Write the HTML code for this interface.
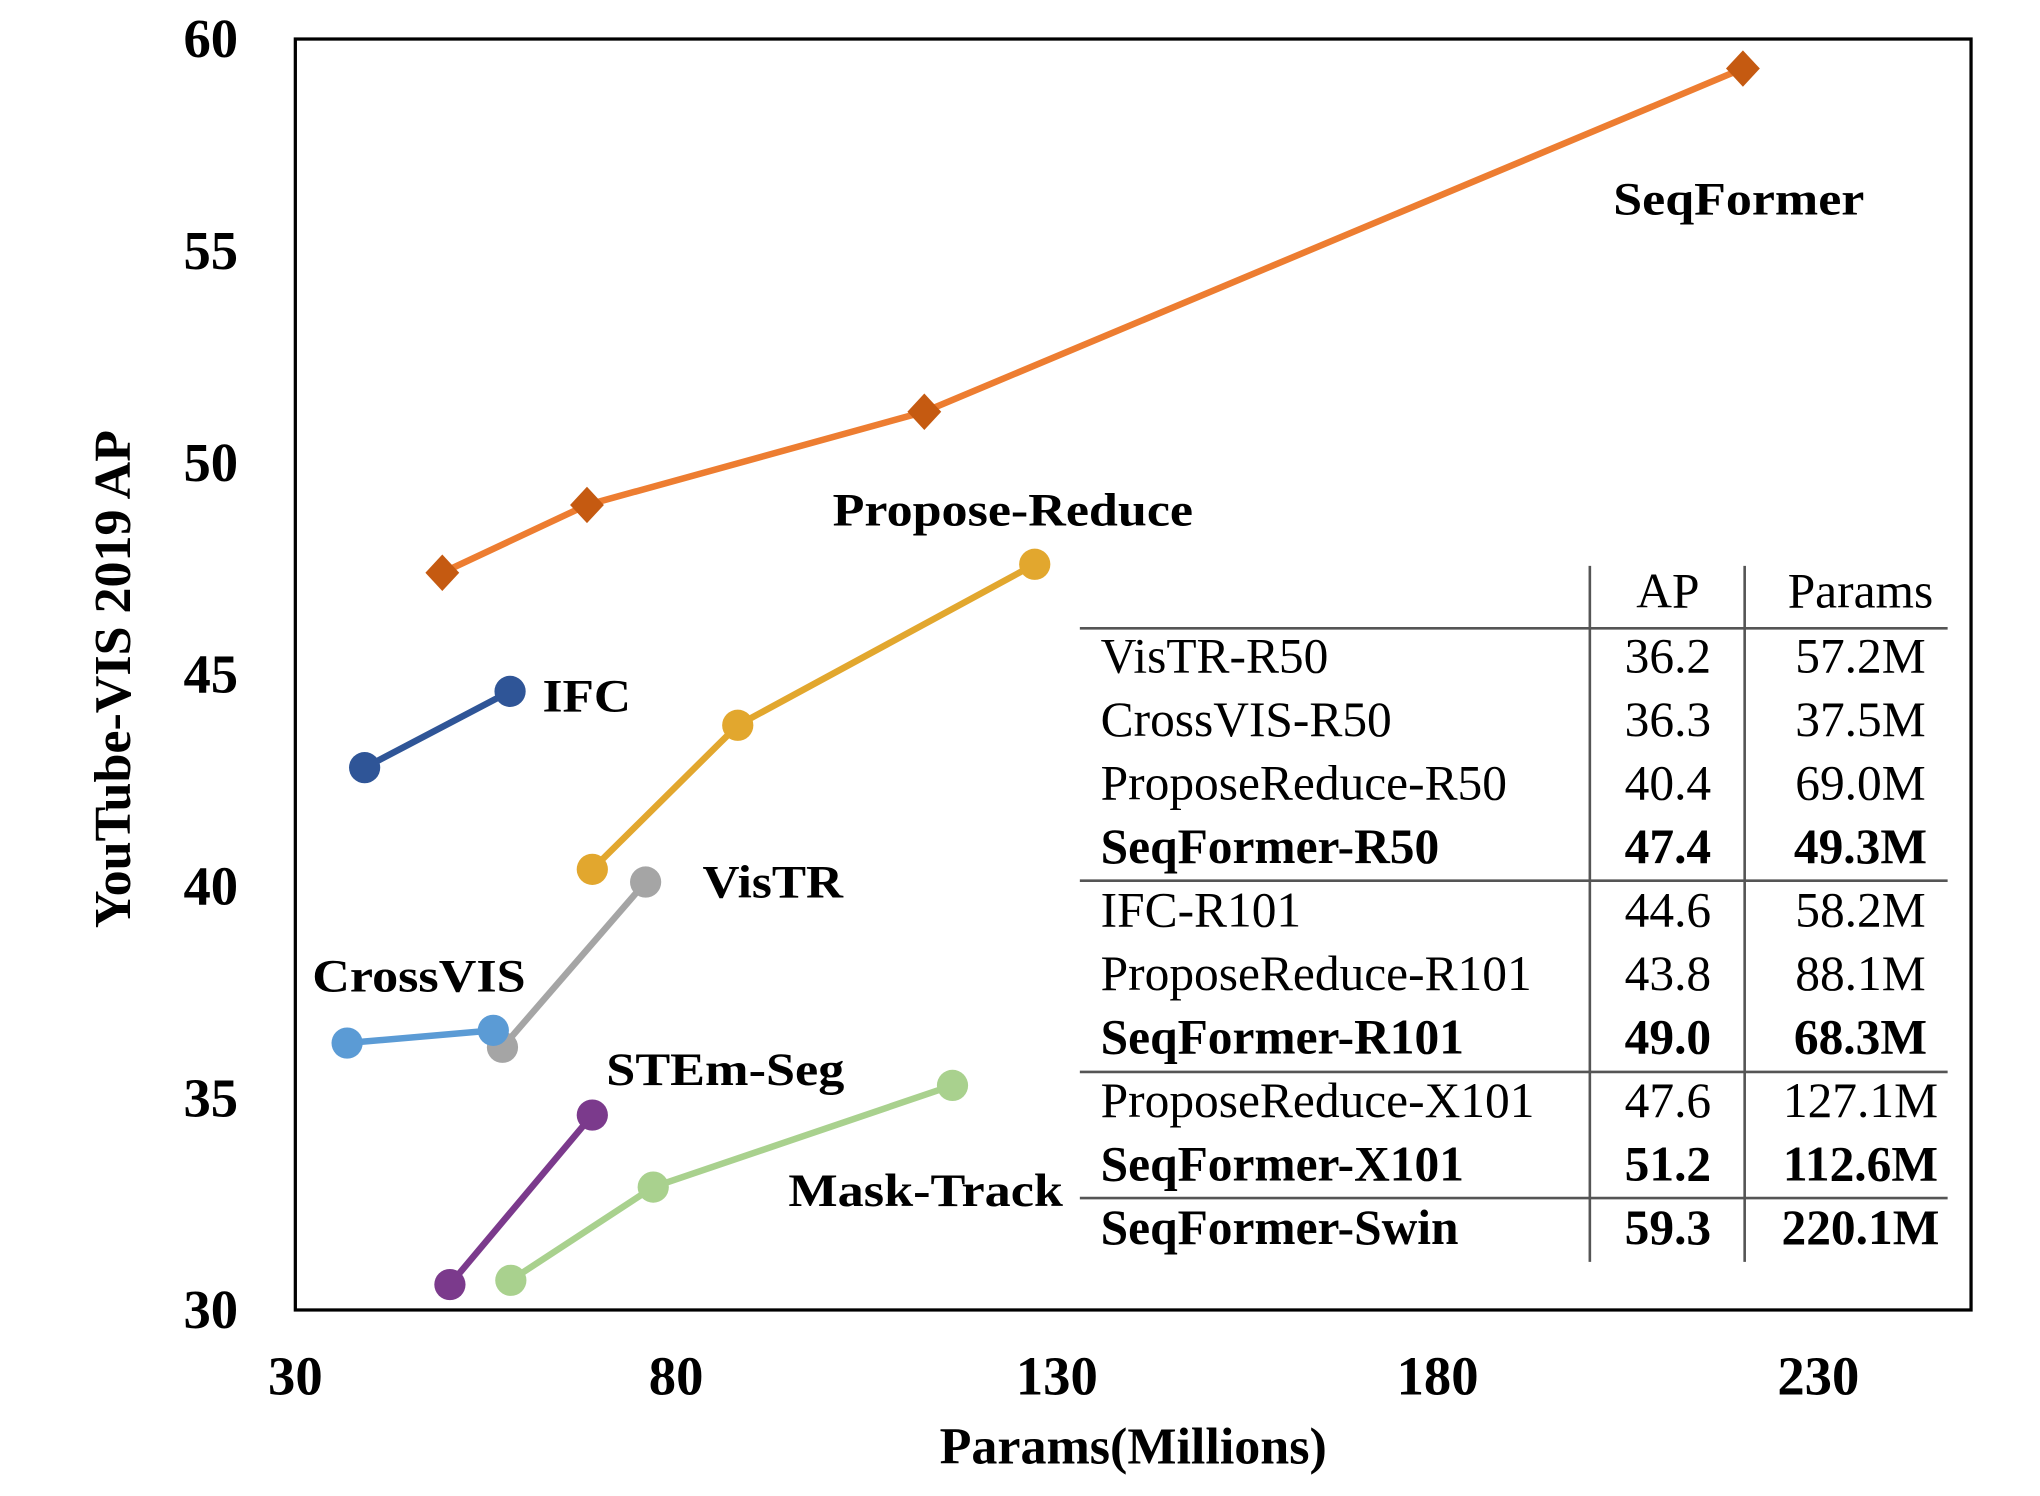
<!DOCTYPE html>
<html><head><meta charset="utf-8"><style>
html,body{margin:0;padding:0;background:#fff;}
svg{display:block;}
text{font-family:"Liberation Serif",serif;fill:#000;}
.b{font-weight:bold;}
</style></head><body>
<svg id="chart" width="2040" height="1496" viewBox="0 0 1568 1150" preserveAspectRatio="none" xmlns="http://www.w3.org/2000/svg">
<rect x="227" y="30" width="1288" height="977" fill="none" stroke="#000" stroke-width="2.5"/>
<g id="ticks"></g>
<text class="b" x="871" y="1125" font-size="40" text-anchor="middle">Params(Millions)</text>
<text class="b" x="0" y="0" font-size="40" text-anchor="middle" transform="translate(100,522) rotate(-90)">YouTube-VIS 2019  AP</text>
<g id="series"></g>
<g id="labels"></g>
<g id="table">
<line x1="1222" y1="435" x2="1222" y2="970" stroke="#555" stroke-width="2"/>
<line x1="1341" y1="435" x2="1341" y2="970" stroke="#555" stroke-width="2"/>
<line x1="830" y1="483" x2="1497" y2="483" stroke="#555" stroke-width="2"/>
<line x1="830" y1="677" x2="1497" y2="677" stroke="#555" stroke-width="2"/>
<line x1="830" y1="824" x2="1497" y2="824" stroke="#555" stroke-width="2"/>
<line x1="830" y1="921" x2="1497" y2="921" stroke="#555" stroke-width="2"/>
</g>
</svg>
<script>
const xTicks=[30,80,130,180,230];
const yTicks=[30,35,40,45,50,55,60];
const seriesNames=["SeqFormer","Propose-Reduce","IFC","VisTR","CrossVIS","STEm-Seg","Mask-Track"];
const seqX=[49.3,68.3,112.6,220.1], seqY=[47.4,49.0,51.2,59.3];
const prX=[69.0,88.1,127.1], prY=[40.4,43.8,47.6];
const ifcX=[39.1,58.2], ifcY=[42.8,44.6];
const vistrX=[57.2,76.0], vistrY=[36.2,40.1];
const crossX=[36.8,56.0], crossY=[36.3,36.6];
const stemX=[50.3,69.0], stemY=[30.6,34.6];
const maskX=[58.3,77.0,116.3], maskY=[30.7,32.9,35.3];
const tableHead=["AP","Params"];
const tableNames=["VisTR-R50","CrossVIS-R50","ProposeReduce-R50","SeqFormer-R50","IFC-R101","ProposeReduce-R101","SeqFormer-R101","ProposeReduce-X101","SeqFormer-X101","SeqFormer-Swin"];
const tableAP=["36.2","36.3","40.4","47.4","44.6","43.8","49.0","47.6","51.2","59.3"];
const tableParams=["57.2M","37.5M","69.0M","49.3M","58.2M","88.1M","68.3M","127.1M","112.6M","220.1M"];
const tableBold=[0,0,0,1,0,0,1,0,1,1];

const NS="http://www.w3.org/2000/svg";
const xs=v=>227+(v-30)*5.853;
const ys=v=>1007-(v-30)*32.57;
function mk(tag,attrs,parent){const e=document.createElementNS(NS,tag);for(const k in attrs)e.setAttribute(k,attrs[k]);parent.appendChild(e);return e;}
const tg=document.getElementById('ticks');
xTicks.forEach(t=>{const e=mk('text',{x:xs(t),y:1072,'font-size':42,'text-anchor':'middle',class:'b'},tg);e.textContent=t;

});
yTicks.forEach(t=>{const e=mk('text',{x:183,y:ys(t)+14,'font-size':42,'text-anchor':'end',class:'b'},tg);e.textContent=t;

});

const sg=document.getElementById('series');
const defs=[
 [seqX,seqY,'#ED7D31','#C55A11','diamond'],
 [prX,prY,'#E2A72E','#E2A72E','circle'],
 [ifcX,ifcY,'#2F5597','#2F5597','circle'],
 [vistrX,vistrY,'#A5A5A5','#A5A5A5','circle'],
 [crossX,crossY,'#5B9BD5','#5B9BD5','circle'],
 [stemX,stemY,'#7B3A8C','#7B3A8C','circle'],
 [maskX,maskY,'#A9D18E','#A9D18E','circle']];
defs.forEach((d,i)=>{
 const g=mk('g',{},sg);
 
 
 const pts=d[0].map((x,j)=>xs(x)+','+ys(d[1][j])).join(' ');
 const l=mk('polyline',{points:pts,fill:'none',stroke:d[2],'stroke-width':5},g);
 
 
 d[0].forEach((x,j)=>{
  const cx=xs(x),cy=ys(d[1][j]);let m;
  if(d[4]==='diamond') m=mk('polygon',{points:`${cx},${cy-14} ${cx+13},${cy} ${cx},${cy+14} ${cx-13},${cy}`,fill:d[3]},g);
  else m=mk('circle',{cx:cx,cy:cy,r:12,fill:d[3]},g);
  
  
 });
});
const lg=document.getElementById('labels');
const labelPos=[[1240,165,193],[640,404,277],[417,547,68],[540,690,108],[240,762,164],[466,834,183],[606,927,211]];
seriesNames.forEach((n,i)=>{const p=labelPos[i];const e=mk('text',{x:p[0],y:p[1],'font-size':36,class:'b',textLength:p[2],lengthAdjust:'spacingAndGlyphs'},lg);e.textContent=n;

});

const tb=document.getElementById('table');
const h1=mk('text',{x:1282,y:467,'font-size':38,'text-anchor':'middle'},tb);h1.textContent=tableHead[0];


const h2=mk('text',{x:1430,y:467,'font-size':38,'text-anchor':'middle'},tb);h2.textContent=tableHead[1];


tableNames.forEach((n,i)=>{
 const y=517+i*48.8;const cls=tableBold[i]?'b':'';
 const a=mk('text',{x:846,y:y,'font-size':38,class:cls},tb);a.textContent=n;
 
 
 const b=mk('text',{x:1282,y:y,'font-size':38,'text-anchor':'middle',class:cls},tb);b.textContent=tableAP[i];
 
 
 const c=mk('text',{x:1430,y:y,'font-size':38,'text-anchor':'middle',class:cls},tb);c.textContent=tableParams[i];
 
 
});
</script>
</body></html>
